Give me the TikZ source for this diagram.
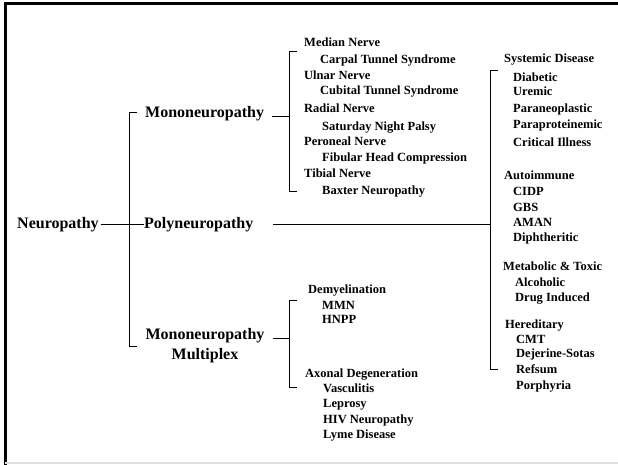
\documentclass[tikz,border=0pt]{standalone}
\usepackage{fontspec}
\setmainfont{Liberation Serif}
\usetikzlibrary{positioning}

\begin{document}
\begin{tikzpicture}[x=1pt, y=-1pt,
    every node/.style={inner sep=0pt, anchor=base west},
    head/.style={font=\fontsize{16}{20}\selectfont\bfseries},
    item/.style={font=\fontsize{12.5}{15}\selectfont\bfseries},
    link/.style={line width=0.7pt}]
    \useasboundingbox (0,0) rectangle (618,465);

    % Frame
    \draw[line width=3pt] (5,465) -- (5,4) -- (618,4);
    \draw[gray!25, line width=1.5pt] (5,463) -- (618,463);

    % Main classes
    \node[head] (neuro) at (17,229) {Neuropathy};
    \node[head] (mono) at (145,118) {Mononeuropathy};
    \node[head] (poly) at (144,229) {Polyneuropathy};
    \node[head, align=center, anchor=center] (multi) at (205,346) {Mononeuropathy\\Multiplex};

    % Bracket corners
    \coordinate (rootT) at (129,112);
    \coordinate (rootB) at (129,346);
    \coordinate (monoT) at (289,51);
    \coordinate (monoB) at (289,191);
    \coordinate (multiT) at (289,300);
    \coordinate (multiB) at (289,387);
    \coordinate (polyT) at (490,70);
    \coordinate (polyB) at (490,369);

    % Mononeuropathy list
    \foreach \name/\x/\y/\txt in {median/304/47/Median Nerve,
        carpal/320/63.5/Carpal Tunnel Syndrome, ulnar/304/79.5/Ulnar Nerve,
        cubital/320/94.5/Cubital Tunnel Syndrome, radial/304/113/Radial Nerve,
        saturday/322/131/Saturday Night Palsy, peroneal/304/146/Peroneal Nerve,
        fibular/322/162/Fibular Head Compression, tibial/304/177.5/Tibial Nerve,
        baxter/322/195/Baxter Neuropathy}
        \node[item] (\name) at (\x,\y) {\txt};

    % Polyneuropathy list
    \foreach \name/\x/\y/\txt in {systemic/504/63/Systemic Disease,
        diabetic/513/81.5/Diabetic, uremic/513/96/Uremic,
        paraneo/513/112.5/Paraneoplastic, paraprot/513/128.5/Paraproteinemic,
        critical/513/146.5/Critical Illness, autoimm/504/179.5/Autoimmune,
        cidp/513/195.5/CIDP, gbs/513/211.5/GBS, aman/513/226.5/AMAN,
        diphth/513/241/Diphtheritic, metab/503/270.5/Metabolic \& Toxic,
        alcohol/515/286/Alcoholic, drug/515/301/Drug Induced,
        heredit/505/328.5/Hereditary, cmt/516/343/CMT,
        dejerine/516/357.5/Dejerine-Sotas, refsum/516/373.5/Refsum,
        porph/516/389.5/Porphyria}
        \node[item] (\name) at (\x,\y) {\txt};

    % Mononeuropathy multiplex list
    \foreach \name/\x/\y/\txt in {demyel/308/293/Demyelination,
        mmn/322/309/MMN, hnpp/322/323/HNPP,
        axonal/305/377/Axonal Degeneration, vascul/323/392/Vasculitis,
        leprosy/323/407/Leprosy, hiv/323/423/HIV Neuropathy,
        lyme/323/438/Lyme Disease}
        \node[item] (\name) at (\x,\y) {\txt};

    % Connections
    \draw[link] ([xshift=2pt]neuro.east |- 0,224.5) -- (poly.west |- 0,224.5);
    \draw[link] ([xshift=8pt]rootT) -- (rootT) -- (rootB) -- ([xshift=8pt]rootB);
    \draw[link] ([xshift=8pt]mono.east |- monoT |- 0,116) -- (monoT |- 0,116);
    \draw[link] ([xshift=8pt]monoT) -- (monoT) -- (monoB) -- ([xshift=8pt]monoB);
    \draw[link] ([xshift=8pt]multi.east |- 0,338) -- (multiT |- 0,338);
    \draw[link] ([xshift=8pt]multiT) -- (multiT) -- (multiB) -- ([xshift=8pt]multiB);
    \draw[link] (273,224.5) -- (polyT |- 0,224.5);
    \draw[link] ([xshift=8pt]polyT) -- (polyT) -- (polyB) -- ([xshift=8pt]polyB);
\end{tikzpicture}
\end{document}
